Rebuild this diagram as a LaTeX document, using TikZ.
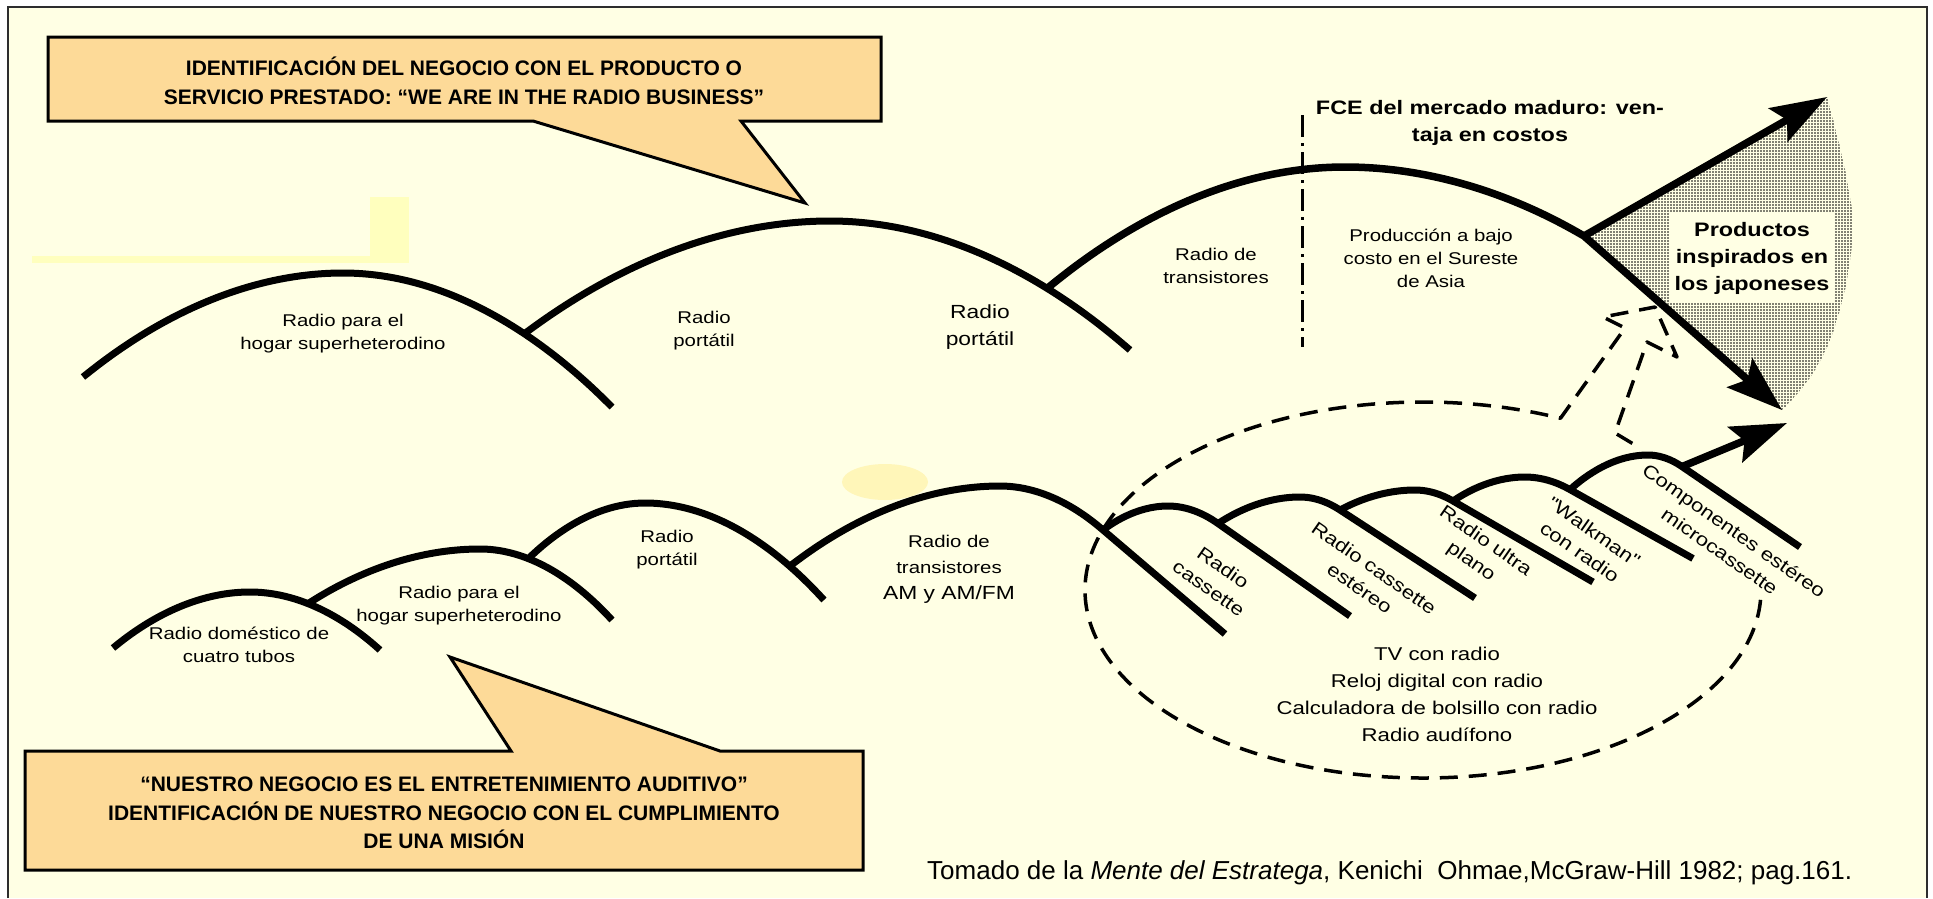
\documentclass[tikz,border=0pt]{standalone}
\usepackage{fontspec}
\setmainfont{Liberation Sans}
\newfontfamily\widesf{Liberation Sans}[FakeStretch=1.2]
\usetikzlibrary{arrows.meta,patterns.meta}

\definecolor{cream}{RGB}{255,255,228}
\definecolor{boxfill}{RGB}{253,218,152}
\definecolor{hilite}{RGB}{255,255,190}
\definecolor{hilitetwo}{RGB}{255,246,185}
\definecolor{framegray}{RGB}{45,45,45}

\tikzset{
  hump/.style={line width=7pt},
  bigarrow/.style={line width=7.5pt, -{Stealth[length=56pt,width=38pt,inset=10pt]}},
  dashline/.style={line width=3.5pt, dash pattern=on 18pt off 11pt, line join=round},
  calloutbox/.style={fill=boxfill, draw=black, line width=3pt},
  lbl/.style={align=center, inner sep=0pt, font=\widesf\fontsize{17}{23}\selectfont},
  boldlbl/.style={align=center, inner sep=0pt, font=\widesf\bfseries\fontsize{19.5}{27}\selectfont},
  boxtext/.style={align=center, inner sep=0pt, font=\bfseries\fontsize{21}{28.5}\selectfont},
  tiltlbl/.style={lbl, rotate=-35, font=\widesf\fontsize{18.5}{25}\selectfont},
}

\begin{document}
\begin{tikzpicture}[x=1pt, y=-1pt]
  \useasboundingbox (0,0) rectangle (1933,898);
  \fill[white] (0,0) rectangle (1933,898);
  \fill[cream] (8,7) rectangle (1927,898);
  \draw[framegray, line width=2.5pt] (8,898) -- (8,7) -- (1927,7) -- (1927,898);

  % faint marks of the scan
  \fill[hilite] (370,197) rectangle (409,263);
  \fill[hilite] (32,256) rectangle (409,263);
  \fill[hilitetwo] (885,482) ellipse [x radius=43, y radius=18];

  % callouts
  \draw[calloutbox] (48,37) -- (881,37) -- (881,121) -- (741,121) -- (805,203) -- (533,121) -- (48,121) -- cycle;
  \node[boxtext] (topnote) at (464,81) {IDENTIFICACIÓN DEL NEGOCIO CON EL PRODUCTO O\\SERVICIO PRESTADO: “WE ARE IN THE RADIO BUSINESS”};
  \draw[calloutbox] (25,751) -- (511,751) -- (450,657) -- (720,751) -- (863,751) -- (863,870) -- (25,870) -- cycle;
  \node[boxtext] (lownote) at (444,813) {“NUESTRO NEGOCIO ES EL ENTRETENIMIENTO AUDITIVO”\\IDENTIFICACIÓN DE NUESTRO NEGOCIO CON EL CUMPLIMIENTO\\DE UNA MISIÓN};

  % shaded wedge
  \coordinate (split) at (1584,236);
  \coordinate (uptip) at (1827,97);
  \coordinate (downtip) at (1782,410);
  \fill[pattern={Dots[radius=0.8pt, distance=3pt]}] (split) -- (uptip) -- plot[smooth, tension=0.7] coordinates {(1827,97) (1847,180) (1852,240) (1839,313) (1815,370) (1782,410)} -- cycle;
  \node[boldlbl, fill=cream, minimum width=165pt, minimum height=90pt] (prod) at (1752,258) {Productos\\inspirados en\\los japoneses};

  % upper row
  \coordinate (jT1) at (524,334);
  \coordinate (jT2) at (1047,288.5);
  \draw[hump] (83,377) parabola bend (343,273) (612,407);
  \draw[hump] (jT1) parabola bend (830,221) (1130,350);
  \draw[bigarrow] (jT2) parabola bend (1345,167) (split) -- (downtip);
  \draw[bigarrow] (split) -- (uptip);
  \draw[line width=3pt, dash pattern=on 22pt off 6pt on 3pt off 6pt] (1302,115) -- (1302,347);

  % lower row
  \coordinate (jA) at (309,603);
  \coordinate (jB) at (530,557);
  \coordinate (jC) at (790,566);
  \coordinate (jD) at (1103,530);
  \coordinate (jE1) at (1218,523.5);
  \coordinate (jE2) at (1340,510);
  \coordinate (jE3) at (1453,501);
  \coordinate (jE4) at (1570,489.6);
  \coordinate (jE5) at (1682,466.6);
  \draw[hump] (113,648) parabola bend (250,592) (380,650);
  \draw[hump] (jA) parabola bend (480,549) (612,620);
  \draw[hump] (jB) parabola bend (645,503) (824,600);
  \draw[hump] (jC) parabola bend (1000,486) (jD) -- (1225,634);
  \draw[hump] (jD) parabola bend (1168,506) (jE1) -- (1350,616);
  \draw[hump] (jE1) parabola bend (1300,497) (jE2) -- (1475,598);
  \draw[hump] (jE2) parabola bend (1415,490) (jE3) -- (1593,582);
  \draw[hump] (jE3) parabola bend (1525,477) (jE4) -- (1693,558.5);
  \draw[hump] (jE4) parabola bend (1648,455) (jE5) -- (1800,547);
  \draw[bigarrow] (jE5) -- (1787,423);

  % dashed ring and hollow arrow
  \draw[dashline] (1423,590) ++(3:338 and 188) arc[start angle=3, end angle=294, x radius=338, y radius=188]
    -- (1625,328) -- (1603,317) -- (1655,307) -- (1677,357) -- (1647,342) -- (1615,433) -- (1635,445);

  % labels upper row
  \node[lbl] (homeA) at (343,334) {Radio para el\\hogar superheterodino};
  \node[lbl] (portA) at (704,331) {Radio\\portátil};
  \node[lbl, font=\widesf\fontsize{19}{27}\selectfont] (portB) at (980,327) {Radio\\portátil};
  \node[lbl] (transA) at (1216,266) {Radio de\\transistores};
  \node[lbl] (asia) at (1431,258) {Producción a bajo\\costo en el Sureste\\de Asia};
  \node[boldlbl] (fce) at (1490,123) {FCE del mercado maduro: ven-\\taja en costos};

  % labels lower row
  \node[lbl] (tubes) at (239,645) {Radio doméstico de\\cuatro tubos};
  \node[lbl] (homeB) at (459,606) {Radio para el\\hogar superheterodino};
  \node[lbl] (portC) at (667,550) {Radio\\portátil};
  \node[lbl, font=\widesf\fontsize{17}{26}\selectfont] (transB) at (949,569) {Radio de\\transistores\\{\fontsize{19}{26}\selectfont AM y AM/FM}};
  \node[tiltlbl] (cass) at (1216,578) {Radio\\cassette};
  \node[tiltlbl] (stereo) at (1367,578) {Radio cassette\\estéreo};
  \node[tiltlbl] (flat) at (1478,552) {Radio ultra\\plano};
  \node[tiltlbl] (walk) at (1587,542) {''Walkman''\\con radio};
  \node[tiltlbl] (micro) at (1727,541) {Componentes estéreo\\microcassette};
  \node[lbl, font=\widesf\fontsize{18.5}{27}\selectfont] (others) at (1437,694) {TV con radio\\Reloj digital con radio\\Calculadora de bolsillo con radio\\Radio audífono};

  \node[anchor=west, inner sep=0pt, font=\fontsize{26}{30}\selectfont] (source) at (927,873) {Tomado de la \textit{Mente del Estratega}, Kenichi\ \ Ohmae,McGraw-Hill 1982; pag.161.};
\end{tikzpicture}
\end{document}
